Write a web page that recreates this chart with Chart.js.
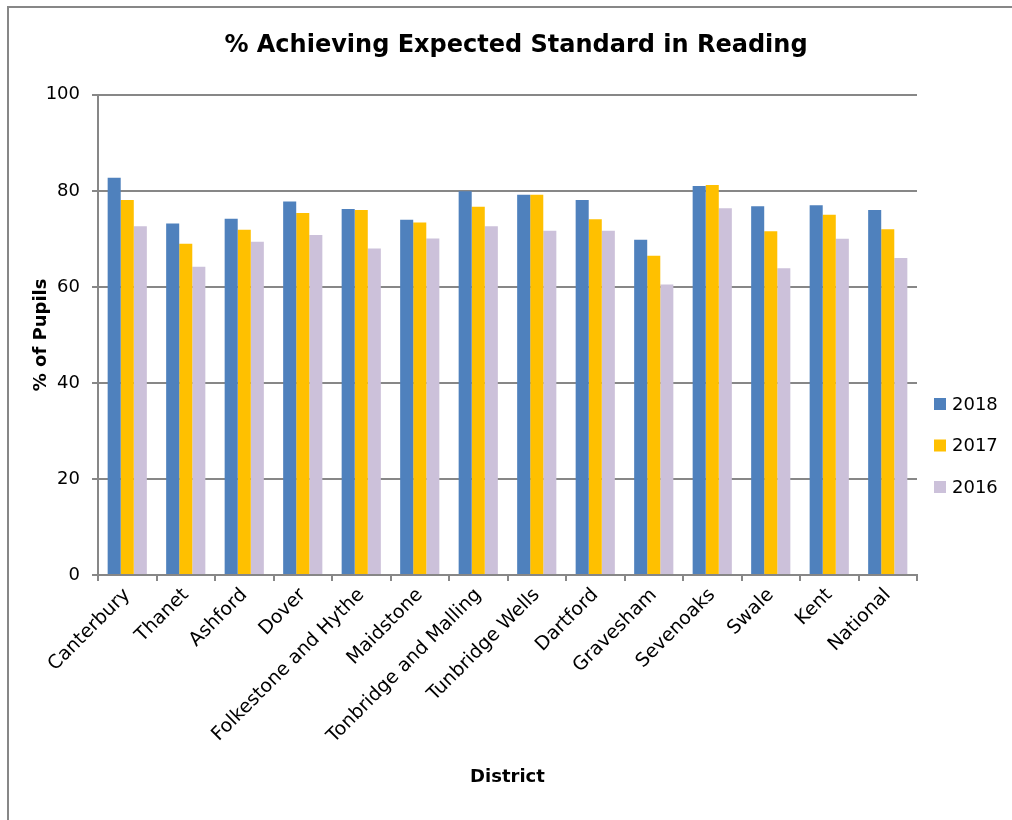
<!DOCTYPE html>
<html>
<head>
<meta charset="utf-8">
<script src="https://cdn.jsdelivr.net/npm/chart.js@4.4.1/dist/chart.umd.min.js"></script>
<style>
  html, body { margin: 0; padding: 0; background: #fff; }
  #wrap { width: 1012px; height: 820px; }
</style>
</head>
<body>
<div id="wrap"><canvas id="chart" width="1012" height="820"></canvas></div>
<script>
var districts = ['Canterbury', 'Thanet', 'Ashford', 'Dover', 'Folkestone and Hythe', 'Maidstone',
    'Tonbridge and Malling', 'Tunbridge Wells', 'Dartford', 'Gravesham', 'Sevenoaks', 'Swale', 'Kent', 'National'];
var years = ['2018', '2017', '2016'];
var pct2018 = [82.7, 73.2, 74.2, 77.8, 76.2, 74.0, 79.9, 79.2, 78.1, 69.8, 81.0, 76.8, 77.0, 76.0];
var pct2017 = [78.1, 69.0, 71.9, 75.4, 76.0, 73.4, 76.7, 79.2, 74.1, 66.5, 81.2, 71.6, 75.0, 72.0];
var pct2016 = [72.6, 64.2, 69.4, 70.8, 68.0, 70.1, 72.6, 71.7, 71.7, 60.5, 76.4, 63.9, 70.0, 66.0];

var FONT = "'DejaVu Sans', Verdana, sans-serif";
var GRID = '#878787';

// outer frame of the chart object
var framePlugin = {
    id: 'frame',
    beforeDraw: function (chart) {
        var c = chart.ctx;
        c.save();
        c.strokeStyle = GRID;
        c.lineWidth = 2;
        c.beginPath();
        c.moveTo(8, 820);
        c.lineTo(8, 7);
        c.lineTo(1012, 7);
        c.stroke();
        c.restore();
    }
};

// legend on the right, drawn from the datasets
var sideLegend = {
    id: 'sideLegend',
    afterDraw: function (chart) {
        var c = chart.ctx;
        c.save();
        c.font = '18px ' + FONT;
        c.textBaseline = 'middle';
        chart.data.datasets.forEach(function (ds, i) {
            var y = 404 + i * 41.5;
            c.fillStyle = ds.backgroundColor;
            c.fillRect(934, y - 6, 12, 12);
            c.fillStyle = '#000';
            c.fillText(ds.label, 952, y + 1);
        });
        c.restore();
    }
};

var ctx = document.getElementById('chart').getContext('2d');
var chart = new Chart(ctx, {
    type: 'bar',
    data: {
        labels: districts,
        datasets: [
            { label: years[0], data: pct2018, backgroundColor: '#4F81BD' },
            { label: years[1], data: pct2017, backgroundColor: '#FFC000' },
            { label: years[2], data: pct2016, backgroundColor: '#CCC1DA' }
        ]
    },
    options: {
        responsive: false,
        animation: false,
        layout: { padding: { left: 20, right: 0, top: 0, bottom: 28 } },
        datasets: { bar: { categoryPercentage: 0.67, barPercentage: 1.0 } },
        plugins: {
            legend: { display: false },
            tooltip: { enabled: false },
            title: {
                display: true,
                text: '% Achieving Expected Standard in Reading',
                color: '#000',
                font: { family: FONT, size: 24, weight: 'bold' },
                padding: { top: 31, bottom: 35 }
            }
        },
        scales: {
            x: {
                afterFit: function (s) { s.height = 820 - 28 - 575; },
                grid: { drawOnChartArea: false, drawTicks: true, tickLength: 6, tickColor: GRID, lineWidth: 2 },
                border: { color: GRID, width: 2 },
                ticks: { color: '#000', font: { family: FONT, size: 19 }, minRotation: 45, maxRotation: 45, autoSkip: false, padding: 3 },
                title: { display: true, text: 'District', color: '#000', font: { family: FONT, size: 18, weight: 'bold' } }
            },
            y: {
                min: 0,
                max: 100,
                afterFit: function (s) { s.width = 78; },
                grid: { color: GRID, lineWidth: 2, tickLength: 6, tickColor: GRID },
                border: { color: GRID, width: 2 },
                ticks: { stepSize: 20, color: '#000', font: { family: FONT, size: 18 }, padding: 12 },
                title: { display: true, text: '% of Pupils', color: '#000', padding: { top: 11, bottom: 4 },
                    font: { family: FONT, size: 18, weight: 'bold' } }
            },
            // empty space on the right for the legend
            side: {
                position: 'right',
                display: true,
                afterFit: function (s) { s.width = 95; },
                grid: { display: false },
                border: { display: false },
                ticks: { display: false }
            }
        }
    },
    plugins: [framePlugin, sideLegend]
});
</script>
</body>
</html>
